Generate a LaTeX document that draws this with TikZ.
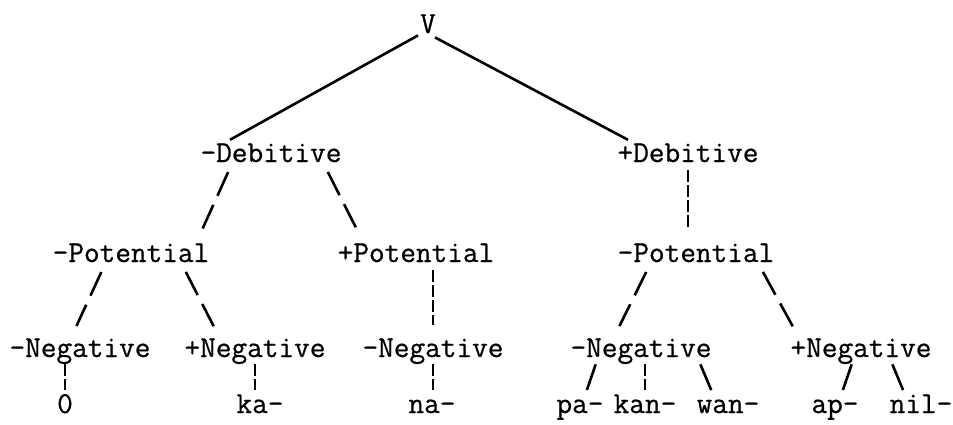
\documentclass[tikz,border=0pt]{standalone}
\usepackage{fontspec}
\newfontfamily\typed{Latin Modern Mono}[FakeBold=0.7]

\tikzset{
  feat/.style={anchor=base, inner sep=0pt, text height=9.4pt, text depth=3pt,
    font=\fontsize{15.2}{18}\selectfont\typed},
  stem/.style={line width=1.3pt},
  % typed / and \ between rows
  slash/.style={line width=1.3pt, dash pattern=on 13pt off 5pt,
    shorten <=2pt, shorten >=6.5pt},
  % stacked broken bars
  bar/.style={line width=1.2pt, dash pattern=on 6pt off 1.5pt,
    shorten <=1pt, shorten >=6.5pt},
  tick/.style={line width=1.3pt, shorten <=0.5pt, shorten >=2pt},
  tickbar/.style={line width=1.2pt, dash pattern=on 6pt off 1.5pt,
    shorten <=0.5pt, shorten >=2pt},
}

\begin{document}
\begin{tikzpicture}[x=0.5pt,y=-0.5pt]
  \useasboundingbox (0,0) rectangle (953,424);

  % features
  \node[feat] (v)  at (428,33)  {V};
  \node[feat] (dd) at (271,162) {-Debitive};
  \node[feat] (pd) at (688,162) {+Debitive};
  \node[feat] (pl) at (131,262) {-Potential};
  \node[feat] (pp) at (416,262) {+Potential};
  \node[feat] (pr) at (696,262) {-Potential};
  \node[feat] (n1) at (80,357)  {-Negative};
  \node[feat] (n2) at (255,357) {+Negative};
  \node[feat] (n3) at (433,357) {-Negative};
  \node[feat] (n4) at (641,357) {-Negative};
  \node[feat] (n5) at (861,357) {+Negative};

  % prefixes
  \node[feat] (zero) at (65,413)  {0};
  \node[feat] (ka)   at (260,413) {ka-};
  \node[feat] (na)   at (432,413) {na-};
  \node[feat] (pa)   at (580,413) {pa-};
  \node[feat] (kan)  at (645,413) {kan-};
  \node[feat] (wan)  at (728,413) {wan-};
  \node[feat] (ap)   at (835,413) {ap-};
  \node[feat] (nil)  at (921,413) {nil-};

  % top split
  \draw[stem] ([xshift=-5pt,yshift=2pt]v.south) -- ([xshift=-20.5pt,yshift=1.5pt]dd.north);
  \draw[stem] ([xshift=3.5pt,yshift=1pt]v.south) -- ([xshift=-30pt,yshift=1.5pt]pd.north);

  % debitive -> potential
  \draw[slash] ([xshift=-20.6pt]dd.south) -- ([xshift=32.6pt]pl.north);
  \draw[slash] ([xshift=27.5pt]dd.south) -- ([xshift=-26.2pt]pp.north);
  \draw[bar] (pd.south) -- (pd.south |- pr.north);

  % potential -> negative
  \draw[slash] ([xshift=-14pt]pl.south) -- ([xshift=-4.5pt]n1.north);
  \draw[slash] ([xshift=26.5pt]pl.south) -- ([xshift=-17.7pt]n2.north);
  \draw[bar] (n3.north |- pp.south) -- (n3.north);
  \draw[slash] ([xshift=-24pt]pr.south) -- ([xshift=-13.7pt]n4.north);
  \draw[slash] ([xshift=32.5pt]pr.south) -- ([xshift=-31pt]n5.north);

  % negative -> prefix
  \draw[tickbar] (zero.north |- n1.south) -- (zero.north);
  \draw[tickbar] (n2.south) -- (n2.south |- ka.north);
  \draw[tickbar] (n3.south) -- (n3.south |- na.north);
  \draw[tick] ([xshift=-22.5pt]n4.south) -- ([xshift=2.8pt]pa.north);
  \draw[tickbar] (kan.north |- n4.south) -- (kan.north);
  \draw[tick] ([xshift=29.5pt]n4.south) -- ([xshift=-7.6pt]wan.north);
  \draw[tick] ([xshift=-4.5pt]n5.south) -- ([xshift=3.3pt]ap.north);
  \draw[tick] ([xshift=15.5pt]n5.south) -- ([xshift=-8.2pt]nil.north);
\end{tikzpicture}
\end{document}
